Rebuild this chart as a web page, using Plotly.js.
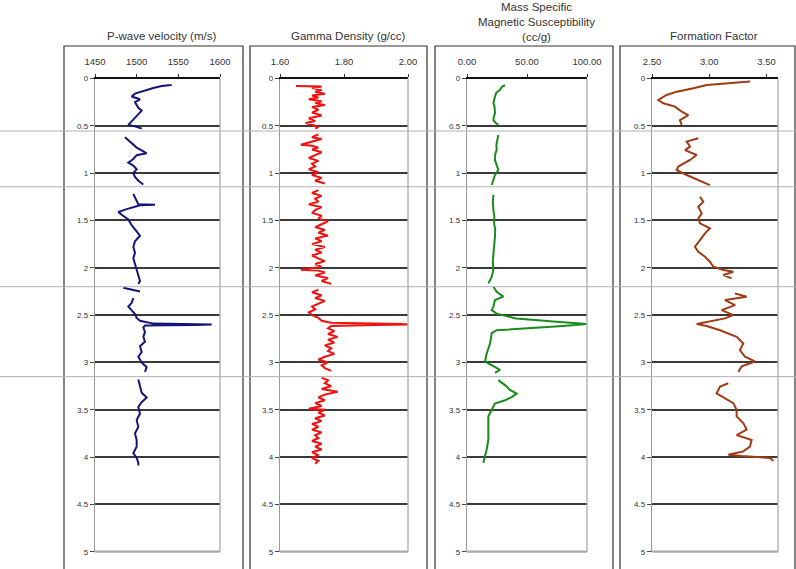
<!DOCTYPE html>
<html><head><meta charset="utf-8">
<script src="https://cdn.plot.ly/plotly-3.0.1.min.js"></script>
<style>html,body{margin:0;padding:0;background:#fff}</style>
</head><body><div id="chart" style="width:796px;height:569px"></div>
<script>
// ---------- DATA ----------
const titles = ["P-wave velocity (m/s)", "Gamma Density (g/cc)", "Mass Specific<br>Magnetic Susceptibility<br>(cc/g)", "Formation Factor"];
const depthTicks = [0, 0.5, 1, 1.5, 2, 2.5, 3, 3.5, 4, 4.5, 5];
const pwTicks = [1450, 1500, 1550, 1600];
const gdTicks = [1.6, 1.8, 2.0];
const msTicks = [0, 50, 100];
const ffTicks = [2.5, 3.0, 3.5];
const sectionBreaks = [0.555, 1.144, 2.20, 3.15];

const pwDepth = [0.07,0.08,0.10,0.13,0.16,0.19,0.22,0.25,0.28,0.31,0.34,0.38,0.42,0.45,0.49,0.51,0.53,null,
  0.62,0.65,0.69,0.73,0.76,0.79,0.81,0.85,0.89,0.92,0.96,1.00,1.04,1.08,1.12,null,
  1.22,1.26,1.30,1.33,1.335,1.34,1.38,1.41,1.44,1.49,1.55,1.61,1.66,1.72,1.78,1.84,1.90,1.96,2.02,2.08,2.14,2.17,null,
  2.21,2.23,2.25,null,
  2.32,2.37,2.41,2.45,2.49,2.53,2.56,2.59,2.60,2.605,2.61,2.63,2.68,2.73,2.78,2.83,2.89,2.94,3.00,3.05,3.10,null,
  3.18,3.25,3.32,3.37,3.42,3.47,3.54,3.61,3.68,3.75,3.82,3.89,3.96,4.01,4.06,4.09];
const pwVel = [1542,1530,1520,1508,1498,1494,1504,1498,1500,1502,1506,1502,1498,1494,1490,1500,1506,null,
  1486,1490,1494,1500,1506,1512,1500,1496,1490,1496,1500,1496,1498,1502,1508,null,
  1496,1498,1500,1502,1522,1504,1488,1478,1482,1490,1494,1500,1504,1498,1496,1498,1496,1498,1500,1502,1504,1502,null,
  1484,1494,1504,null,
  1496,1494,1490,1494,1498,1500,1504,1520,1590,1570,1510,1508,1510,1508,1510,1504,1506,1502,1506,1512,1510,null,
  1502,1504,1506,1512,1506,1502,1504,1500,1502,1498,1500,1500,1496,1500,1502,1502];

const gdDepth = [0.08,0.085,0.10,0.12,0.14,0.16,0.18,0.20,0.22,0.24,0.26,0.28,0.30,0.33,0.36,0.39,0.42,0.45,0.47,0.49,0.51,0.53,null,
  0.59,0.62,0.64,0.66,0.68,0.70,0.71,0.73,0.75,0.78,0.81,0.84,0.87,0.90,0.93,0.96,0.99,1.02,1.05,1.08,1.11,null,
  1.18,1.21,1.24,1.27,1.30,1.33,1.36,1.39,1.42,1.45,1.48,1.51,1.54,1.57,1.60,1.63,1.66,1.69,1.72,1.75,1.78,1.81,1.84,1.87,1.90,1.93,1.96,1.99,2.02,2.03,2.05,2.08,2.11,2.14,2.17,null,
  2.23,2.26,2.29,2.32,2.35,2.38,2.41,2.44,2.47,2.50,2.53,2.56,2.58,2.595,2.60,2.605,2.615,2.64,2.67,2.70,2.73,2.76,2.79,2.82,2.85,2.88,2.91,2.94,2.97,3.00,3.03,3.06,3.09,null,
  3.16,3.19,3.22,3.25,3.28,3.31,3.34,3.37,3.40,3.43,3.46,3.49,3.50,3.53,3.56,3.59,3.62,3.65,3.68,3.71,3.74,3.77,3.80,3.83,3.86,3.89,3.92,3.95,3.98,4.01,4.04,4.07];
const gdDens = [1.65,1.73,1.70,1.73,1.71,1.74,1.70,1.72,1.69,1.73,1.71,1.74,1.70,1.72,1.70,1.73,1.69,1.71,1.68,1.70,1.72,1.71,null,
  1.72,1.70,1.73,1.71,1.69,1.665,1.70,1.72,1.70,1.73,1.71,1.69,1.72,1.70,1.71,1.69,1.72,1.70,1.73,1.71,1.74,null,
  1.72,1.70,1.73,1.71,1.72,1.69,1.73,1.71,1.70,1.73,1.72,1.75,1.73,1.71,1.74,1.72,1.75,1.71,1.73,1.70,1.74,1.71,1.73,1.70,1.72,1.74,1.71,1.73,1.665,1.72,1.74,1.71,1.75,1.73,1.76,null,
  1.72,1.70,1.73,1.71,1.74,1.72,1.70,1.71,1.69,1.70,1.72,1.73,1.76,1.98,2.00,1.90,1.76,1.75,1.77,1.75,1.78,1.75,1.77,1.74,1.76,1.75,1.77,1.74,1.72,1.75,1.73,1.74,1.76,null,
  1.73,1.75,1.74,1.76,1.73,1.78,1.74,1.72,1.74,1.71,1.73,1.69,1.74,1.72,1.74,1.71,1.73,1.70,1.72,1.70,1.73,1.71,1.72,1.70,1.73,1.71,1.73,1.70,1.72,1.70,1.72,1.71];

const msDepth = [0.069,0.09,0.12,0.15,0.19,0.23,0.262,0.30,0.368,0.40,0.44,0.47,0.49,null,
  0.597,0.65,0.70,0.756,0.80,0.861,0.91,0.967,1.02,1.07,1.126,null,
  1.231,1.30,1.39,1.46,1.53,1.60,1.67,1.76,1.85,1.93,2.02,2.10,2.165,null,
  2.20,2.253,2.305,2.341,2.41,2.447,2.485,2.535,2.57,2.595,2.616,2.64,2.66,2.69,2.80,2.905,2.99,3.04,3.08,3.11,null,
  3.187,3.24,3.29,3.33,3.366,3.40,3.435,3.50,3.57,3.68,3.82,3.92,3.99,4.06];
const msSus = [31.7,29,27.5,24.5,23.3,22.5,22.0,23.0,23.3,22.4,22.0,24,26.1,null,
  26.1,25.5,24.5,24.7,23.5,23.3,24.5,26.1,23.3,22,20.6,null,
  22,21.5,22,22.8,22.6,23.5,23.3,22.5,22,21.5,22,20.5,17.8,null,
  22,24.7,30.3,23.3,22,20.6,24.7,41,74.7,99.7,80,52.5,24.7,20.6,19.2,16.4,15,22,27.5,23.3,null,
  26.1,31.7,35.8,41.4,37.2,31.7,23.3,20.6,17.8,17.8,17.8,16.4,15,13.6];

const ffDepth = [0.033,0.045,0.06,0.069,0.104,0.139,0.174,0.227,0.262,0.297,0.35,0.386,0.44,0.49,null,
  0.632,0.667,0.72,0.756,0.808,0.861,0.93,0.967,1.02,1.073,1.126,null,
  1.249,1.302,1.355,1.425,1.478,1.53,1.583,1.636,1.707,1.777,1.83,1.883,1.936,1.989,2.024,2.042,2.077,2.112,null,
  2.271,2.305,2.341,2.394,2.447,2.50,2.535,2.57,2.595,2.616,2.66,2.73,2.80,2.87,2.94,2.99,3.04,3.10,null,
  3.22,3.256,3.327,3.38,3.43,3.50,3.57,3.64,3.71,3.768,3.82,3.89,3.94,3.975,3.99,4.01,4.04];
const ffFac = [3.356,3.20,3.02,2.978,2.861,2.716,2.628,2.555,2.599,2.70,2.759,2.817,2.744,2.759,null,
  2.904,2.803,2.832,2.788,2.89,2.832,2.73,2.715,2.803,2.904,3.006,null,
  2.919,2.948,2.904,2.934,2.904,2.919,3.006,2.963,2.919,2.875,2.904,2.963,3.006,3.035,3.123,3.21,3.123,3.195,null,
  3.225,3.326,3.137,3.225,3.108,3.21,3.137,3.006,2.89,2.977,3.094,3.239,3.297,3.268,3.312,3.399,3.283,3.254,null,
  3.166,3.094,3.064,3.137,3.21,3.239,3.239,3.297,3.326,3.239,3.37,3.355,3.297,3.166,3.283,3.53,3.56];

// ---------- LAYOUT ----------
const W = 796, H = 569;
const px = x => x / W, py = y => 1 - y / H;
const yDom = [py(551.7), py(78.5)];

const panels = [
  {x: pwVel, y: pwDepth, color: '#14147a', ticks: pwTicks, range: [1450, 1600], fmt: 'd', dom: [95, 220], box: [64, 243]},
  {x: gdDens, y: gdDepth, color: '#f01010', ticks: gdTicks, range: [1.6, 2.0], fmt: '.2f', dom: [280, 408], box: [250, 427]},
  {x: msSus, y: msDepth, color: '#1a8a1a', ticks: msTicks, range: [0, 100], fmt: '.2f', dom: [467, 587], box: [435, 613]},
  {x: ffFac, y: ffDepth, color: '#a03a14', ticks: ffTicks, range: [2.5, 3.6], fmt: '.2f', dom: [652, 778], box: [620, 795]}
];
const titleX = [161, 348, 536, 714];
const titleY = [36, 36, 22, 36];

const font = {family: 'Liberation Sans, Arial, sans-serif', color: '#222'};
const layout = {
  width: W, height: H, margin: {l: 0, r: 0, t: 0, b: 0},
  paper_bgcolor: '#fff', plot_bgcolor: '#fff', showlegend: false,
  font: font, shapes: [], annotations: []
};
const data = [];
panels.forEach((p, i) => {
  const n = i === 0 ? '' : String(i + 1);
  data.push({x: p.x, y: p.y, xaxis: 'x' + n, yaxis: 'y' + n, type: 'scatter', mode: 'lines',
    connectgaps: false, line: {color: p.color, width: 2}, hoverinfo: 'skip'});
  layout['xaxis' + n] = {
    domain: [px(p.dom[0]), px(p.dom[1])], anchor: 'y' + n, side: 'top', range: p.range,
    tickvals: p.ticks, tickformat: p.fmt, showgrid: false, zeroline: false,
    showline: true, linecolor: '#111', linewidth: 1.5,
    ticks: 'outside', ticklen: 3, tickcolor: '#333', ticklabelstandoff: 5,
    tickfont: {size: 9.5, family: font.family, color: '#333'}
  };
  layout['yaxis' + n] = {
    domain: yDom, anchor: 'x' + n, range: [5, 0], tickvals: depthTicks,
    showgrid: true, gridcolor: '#3a3a3a', gridwidth: 2, zeroline: false,
    showline: true, linecolor: '#999', linewidth: 1.2,
    ticks: 'outside', ticklen: 4, tickcolor: '#444',
    tickfont: {size: 8, family: font.family, color: '#333'}
  };
  // grey plot-area border (right & bottom)
  layout.shapes.push({type: 'line', xref: 'x' + n + ' domain', yref: 'y' + n + ' domain', x0: 1, x1: 1, y0: 0, y1: 1,
    line: {color: '#aaa', width: 1.3}, layer: 'above'});
  layout.shapes.push({type: 'line', xref: 'x' + n + ' domain', yref: 'y' + n + ' domain', x0: 0, x1: 1, y0: 0, y1: 0,
    line: {color: '#aaa', width: 2.2}, layer: 'above'});
  // outer panel box
  layout.shapes.push({type: 'rect', xref: 'paper', yref: 'paper', x0: px(p.box[0]), x1: px(p.box[1]),
    y0: py(572), y1: py(46), line: {color: '#333', width: 1.2}, layer: 'above'});
  layout.annotations.push({text: titles[i], xref: 'paper', yref: 'paper', x: px(titleX[i]), y: py(titleY[i]),
    xanchor: 'center', yanchor: 'middle', showarrow: false, align: 'center',
    font: {size: 11.5, family: font.family, color: '#333'}});
});
// core section break lines spanning the whole figure
sectionBreaks.forEach(d => {
  layout.shapes.push({type: 'line', xref: 'paper', yref: 'y', x0: 0, x1: 1, y0: d, y1: d,
    line: {color: '#b0b0b0', width: 1}, layer: 'above'});
});

Plotly.newPlot('chart', data, layout, {displayModeBar: false, staticPlot: true});
</script></body></html>
